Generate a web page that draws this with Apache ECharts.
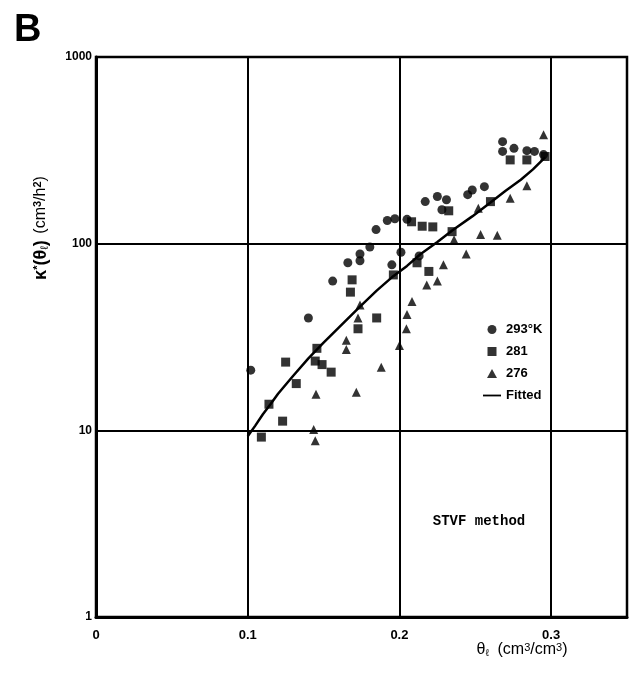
<!DOCTYPE html>
<html>
<head>
<meta charset="utf-8">
<script src="https://cdn.jsdelivr.net/npm/echarts@6/dist/echarts.min.js"></script>
<style>
  html, body { margin: 0; padding: 0; background: #fff; }
  #main { width: 636px; height: 681px; }
</style>
</head>
<body>
<div id="main"></div>
<script>
// 数据：[θ, K*]
const k293 = [
  [0.102, 21], [0.140, 40], [0.156, 63], [0.166, 79], [0.174, 88], [0.174, 81],
  [0.1805, 96], [0.1846, 119], [0.192, 133], [0.197, 136], [0.195, 77], [0.201, 90],
  [0.205, 135], [0.213, 86], [0.217, 168], [0.225, 179], [0.231, 172], [0.228, 152],
  [0.245, 183], [0.248, 194], [0.256, 202], [0.268, 352], [0.268, 312],
  [0.2755, 324], [0.284, 315], [0.289, 312], [0.295, 300]
];
const k281 = [
  [0.109, 9.2], [0.114, 13.8], [0.123, 11.2], [0.125, 23.2], [0.132, 17.8],
  [0.1445, 23.5], [0.1456, 27.5], [0.149, 22.5], [0.155, 20.5], [0.1677, 55],
  [0.1688, 64], [0.1727, 35], [0.185, 40], [0.196, 68], [0.208, 131], [0.2116, 79],
  [0.215, 124], [0.2194, 71], [0.222, 123], [0.2325, 150], [0.2347, 116],
  [0.260, 168], [0.273, 281], [0.284, 281], [0.296, 293]
];
const k276 = [
  [0.1435, 10.1], [0.1445, 8.8], [0.145, 15.6], [0.165, 30.4], [0.165, 27.1],
  [0.1716, 16], [0.1727, 40], [0.174, 47], [0.188, 21.8], [0.200, 28.5],
  [0.2046, 35], [0.205, 41.7], [0.2083, 49], [0.218, 60], [0.225, 63], [0.229, 77],
  [0.236, 105], [0.244, 88], [0.252, 155], [0.2535, 112], [0.2645, 111],
  [0.273, 175], [0.284, 204], [0.295, 383]
];
// 拟合曲线
const fitted = [
  [0.1, 9.3], [0.105, 10.6], [0.11, 12.2], [0.115, 13.8], [0.12, 15.7], [0.13, 19.6],
  [0.14, 24.3], [0.15, 29.5], [0.16, 35.5], [0.174, 46], [0.185, 56], [0.195, 66],
  [0.205, 76], [0.214, 88], [0.225, 102], [0.235, 118], [0.248, 140], [0.26, 166],
  [0.27, 192], [0.28, 220], [0.288, 250], [0.296, 290]
];
const xTicks = ['0', '0.1', '0.2', '0.3'];
const yTicks = ['1', '10', '100', '1000'];

let chartDom = document.getElementById('main');
let mychart = echarts.init(chartDom);
const font = 'Liberation Sans';

let option = {
  animation: false,
  backgroundColor: '#fff',
  grid: {
    left: 96, right: 9, top: 57, bottom: 64,
    show: true, borderColor: '#000', borderWidth: 2.5
  },
  xAxis: {
    type: 'value', min: 0, max: 0.35, interval: 0.1,
    axisLine: { lineStyle: { color: '#000', width: 3 } },
    axisTick: { show: false },
    splitLine: { lineStyle: { color: '#000', width: 2 } },
    axisLabel: {
      color: '#000', fontFamily: font, fontWeight: 'bold', fontSize: 13, margin: 12,
      showMaxLabel: false,
      formatter: function(v) {
        let i = Math.round(v * 10);
        return xTicks[i] !== undefined ? xTicks[i] : '';
      }
    }
  },
  yAxis: {
    type: 'log', logBase: 10, min: 1, max: 1000,
    axisLine: { lineStyle: { color: '#000', width: 3 } },
    axisTick: { show: false },
    splitLine: { lineStyle: { color: '#000', width: 2 } },
    axisLabel: {
      color: '#000', fontFamily: font, fontWeight: 'bold', fontSize: 12, margin: 4,
      formatter: function(v) {
        let i = Math.round(Math.log10(v));
        return yTicks[i] !== undefined ? yTicks[i] : '';
      }
    }
  },
  legend: {
    orient: 'vertical', left: 478, top: 318,
    itemWidth: 18, itemHeight: 9, itemGap: 9,
    textStyle: { color: '#000', fontFamily: font, fontWeight: 'bold', fontSize: 13 },
    data: [
      { name: '293°K', icon: 'circle' },
      { name: '281', icon: 'path://M0 0H9V9H0Z' },
      { name: '276', icon: 'path://M5 0L10 9L0 9Z' },
      { name: 'Fitted', icon: 'path://M0 0H20V2H0Z' }
    ]
  },
  graphic: [
    {
      type: 'text', left: 14, top: 12,
      style: { text: 'B', font: 'bold 38px "Liberation Sans"', fill: '#000' }
    },
    {
      type: 'text', x: 41, y: 228, rotation: Math.PI / 2,
      style: {
        text: '{b|κ}{sp|*}{b|(θ}{sb|ℓ}{b|)}  {n|(cm}{sp|3}{n|/h}{sp|2}{n|)}',
        align: 'center', verticalAlign: 'middle', fill: '#000',
        rich: {
          b: { fontFamily: font, fontWeight: 'bold', fontSize: 18, fill: '#000' },
          n: { fontFamily: font, fontSize: 16, fill: '#000' },
          sp: { fontFamily: font, fontWeight: 'bold', fontSize: 11, verticalAlign: 'top', fill: '#000' },
          sb: { fontFamily: font, fontSize: 11, verticalAlign: 'bottom', fill: '#000' }
        }
      }
    },
    {
      type: 'text', x: 522, y: 650,
      style: {
        text: '{n|θ}{sb|ℓ}{n|  (cm}{sp|3}{n|/cm}{sp|3}{n|)}',
        align: 'center', verticalAlign: 'middle', fill: '#000',
        rich: {
          n: { fontFamily: font, fontSize: 16, fill: '#000' },
          sp: { fontFamily: font, fontSize: 11, verticalAlign: 'top', fill: '#000' },
          sb: { fontFamily: font, fontSize: 10, verticalAlign: 'bottom', fill: '#000' }
        }
      }
    },
    {
      type: 'text', x: 479, y: 521,
      style: {
        text: 'STVF method', font: 'bold 14px "Liberation Mono"', fill: '#000',
        align: 'center', verticalAlign: 'middle'
      }
    }
  ],
  series: [
    {
      name: '293°K', type: 'scatter', symbol: 'circle', symbolSize: 9,
      itemStyle: { color: '#000' }, data: k293
    },
    {
      name: '281', type: 'scatter', symbol: 'rect', symbolSize: 9,
      itemStyle: { color: '#000' }, data: k281
    },
    {
      name: '276', type: 'scatter', symbol: 'triangle', symbolSize: 9,
      itemStyle: { color: '#000' }, data: k276
    },
    {
      name: 'Fitted', type: 'line', smooth: false, symbol: 'none',
      lineStyle: { color: '#000', width: 2.5 }, itemStyle: { color: '#000' },
      data: fitted
    }
  ]
};
option && mychart.setOption(option);
</script>
</body>
</html>
